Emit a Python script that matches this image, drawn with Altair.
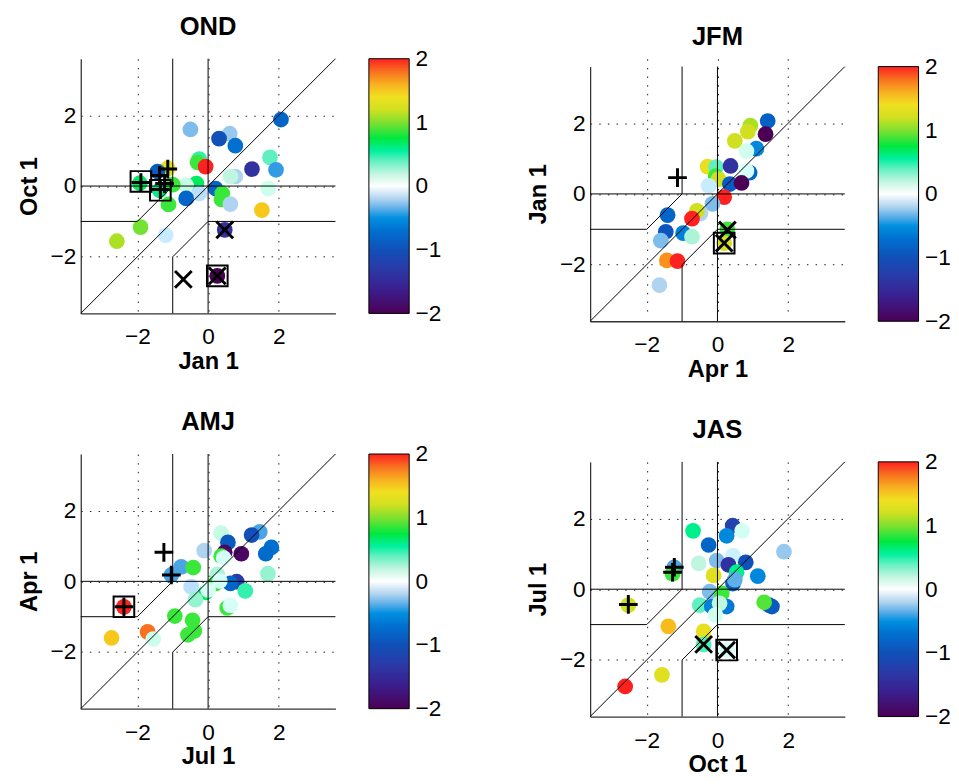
import altair as alt
import pandas as pd

# ---------------- colour map (value -> colour) ----------------
CMAP_V = [-2.0, -1.6, -1.3, -1.0, -0.7, -0.5, -0.35, -0.2, 0.0, 0.2, 0.4, 0.55, 0.75, 1.0, 1.2, 1.4, 1.6, 1.8, 2.0]
CMAP_C = ["#4b0055", "#3a2090", "#2a3aa8", "#1050b8", "#0070d0", "#0090e0", "#60b0e8", "#b0d4f0",
          "#ffffff", "#c0f5e0", "#60f0c0", "#00f0a0", "#00e840", "#80e030", "#d0e020", "#f0e020",
          "#f8b020", "#f87020", "#ff2020"]
CBAR_TICKS = [-2, -1, 0, 1, 2]
AXIS_TICKS = [-2, 0, 2]

# ---------------- OND ----------------
OND_x = [2.06, -0.50, 0.61, 0.31, 0.77, 1.75, -0.25, -0.30, -0.07, 1.24, 1.92, -1.14, -1.43, 0.77, 0.63, -0.33,
         -0.62, -1.93, -1.00, -1.37, 0.21, 1.70, -0.25, -0.62, 0.40, 0.38, 0.63, -1.12, 1.52, -1.91, -1.20, 0.47,
         0.26, -2.58]
OND_y = [1.88, 1.60, 1.48, 1.34, 1.14, 0.81, 0.76, 0.67, 0.55, 0.48, 0.46, 0.50, 0.41, 0.27, 0.27, 0.07,
         0.02, 0.08, 0.04, -0.12, -0.07, -0.07, -0.21, -0.35, -0.21, -0.38, -0.51, -0.52, -0.68, -1.16, -1.39, -1.24,
         -2.54, -1.56]
OND_v = [-0.8, -0.3, -0.25, -1.0, -0.7, 0.4, 0.5, 0.8, 2.0, -1.4, -0.45, 1.3, -0.9, -0.2, 0.2, 0.7,
         0.15, 0.7, 0.8, 0.6, -0.8, 0.1, -0.15, -0.8, 0.8, 0.8, -0.2, 0.8, 1.5, 0.95, -0.1, -1.4,
         -2.0, 1.1]
OND_plus_x = [-1.14, -1.37, -1.23, -1.90, -1.35]
OND_plus_y = [0.48, 0.30, 0.07, 0.10, -0.10]
OND_cross_x = [0.47, 0.26, -0.70]
OND_cross_y = [-1.24, -2.54, -2.64]
OND_sq_x = [-1.90, -1.35, 0.26]
OND_sq_y = [0.13, -0.12, -2.54]

# ---------------- JFM ----------------
JFM_x = [1.42, 0.93, 0.86, 1.36, 0.49, 1.10, 0.82, -0.28, -0.04, 0.37, 0.91, 0.82, -0.05, 0.03, 0.35, 0.68,
         -0.25, 0.19, -0.14, -0.48, -0.58, -0.72, -1.41, -1.46, -0.97, -0.72, -1.60, -1.43, -1.13, -1.64, 0.28, 0.19]
JFM_y = [2.06, 1.93, 1.76, 1.69, 1.50, 1.28, 1.21, 0.77, 0.76, 0.79, 0.60, 0.65, 0.50, 0.42, 0.28, 0.31,
         0.23, -0.09, -0.28, -0.55, -0.48, -0.70, -0.60, -1.07, -1.11, -1.21, -1.32, -1.88, -1.90, -2.58, -1.00, -1.39]
JFM_v = [-0.85, 1.1, 1.2, -2.0, 1.2, -0.55, 0.05, 1.35, 0.4, -1.4, -0.8, 0.0, 0.8, 1.2, -0.9, -2.0,
         -0.1, 2.0, -0.3, -0.2, 1.2, 2.0, -0.8, -0.95, -0.6, 0.25, -0.3, 1.7, 2.0, -0.2, 0.8, 1.25]
JFM_plus_x = [-1.13]
JFM_plus_y = [0.46]
JFM_cross_x = [0.28, 0.19]
JFM_cross_y = [-1.02, -1.39]
JFM_sq_x = [0.19]
JFM_sq_y = [-1.39]

# ---------------- AMJ ----------------
AMJ_x = [0.37, 1.46, 1.23, 0.56, 1.79, 1.63, -0.11, 0.47, 0.94, 0.37, -0.76, -0.42, -1.04, 0.26, 1.69, -0.48,
         0.81, 0.63, 0.21, 1.05, -0.06, 0.00, -0.36, 0.54, -2.38, -0.94, -0.44, -0.39, -0.57, -1.71, -1.55, -2.73,
         0.44, 0.63, 0.33]
AMJ_y = [1.36, 1.40, 1.31, 1.10, 0.96, 0.78, 0.87, 0.82, 0.78, 0.71, 0.41, 0.39, 0.18, 0.20, 0.22, -0.15,
         -0.01, -0.06, -0.06, -0.27, -0.31, -0.24, -0.52, -0.75, -0.72, -0.98, -1.10, -1.40, -1.51, -1.43, -1.63, -1.60,
         0.66, -0.68, 0.01]
AMJ_v = [0.15, -0.4, -1.0, -0.9, -0.7, -0.75, -0.2, -1.9, -1.9, 0.8, -0.4, 0.8, -0.4, 0.25, 0.3, -0.15,
         -1.3, -0.8, 0.8, 0.5, 0.7, 0.0, 0.3, 0.8, 2.0, 0.8, 0.8, 0.8, 0.8, 1.8, 0.1, 1.5,
         0.0, 0.0, 0.0]
AMJ_plus_x = [-1.25, -1.04, -2.38]
AMJ_plus_y = [0.82, 0.18, -0.72]
AMJ_cross_x = []
AMJ_cross_y = []
AMJ_sq_x = [-2.38]
AMJ_sq_y = [-0.72]

# ---------------- JAS ----------------
JAS_x = [-0.69, 0.43, 0.70, 0.26, -0.25, 1.88, 0.44, -0.53, -0.02, 0.31, 0.80, -1.22, -1.27, -0.11, 0.54, 1.14,
         0.44, 0.49, -0.22, 0.12, -2.52, -0.50, -0.16, 0.26, 0.06, -0.06, 1.54, 1.46, 1.32, -1.39, -0.39, -0.39,
         0.26, -1.57, -2.61]
JAS_y = [1.65, 1.80, 1.65, 1.51, 1.25, 1.06, 0.95, 0.73, 0.81, 0.69, 0.76, 0.62, 0.44, 0.39, 0.48, 0.37,
         0.16, 0.27, -0.07, -0.12, -0.45, -0.45, -0.49, -0.49, -0.40, -0.73, -0.49, -0.45, -0.37, -1.05, -1.19, -1.56,
         -1.72, -2.42, -2.75]
JAS_v = [0.6, -1.2, 0.02, -0.55, -0.8, -0.25, -0.08, 0.2, -0.3, -1.4, -1.0, -0.4, 0.8, 1.3, 0.6, -0.55,
         -0.9, -0.35, -0.3, 0.8, 1.2, 0.4, -0.6, -0.65, 0.2, 0.05, -0.9, -0.9, 0.85, 1.55, 1.35, 0.45,
         0.0, 1.3, 2.0]
JAS_plus_x = [-1.22, -1.27, -2.52]
JAS_plus_y = [0.62, 0.48, -0.43]
JAS_cross_x = [-0.39, 0.26]
JAS_cross_y = [-1.56, -1.72]
JAS_sq_x = [0.26]
JAS_sq_y = [-1.72]

# ---------------- reference lines ----------------
LIM = 3.6
LINE_SEG = ["diag", "diag", "h0", "h0", "v0", "v0",
            "a", "a", "a", "a", "b", "b", "b", "b"]
LINE_X = [-LIM, LIM, -LIM, LIM, 0, 0, -LIM, -2, -1, -1, LIM, 0, -1, -1]
LINE_Y = [-LIM, LIM, 0, 0, -LIM, LIM, -1, -1, 0, LIM, -1, -1, -2, -LIM]
LINE_O = [0, 1, 0, 1, 0, 1, 0, 1, 2, 3, 0, 1, 2, 3]

FONT = "Liberation Sans"
PW = 259
CBW = 41
TITLE_OFFSET = 17
PLUS = "M-1,0L1,0M0,-1L0,1"
CROSS = "M-1,-1L1,1M-1,1L1,-1"

cscale = alt.Scale(domain=CMAP_V, range=CMAP_C, type="linear", clamp=True)
lines_df = pd.DataFrame({"x": LINE_X, "y": LINE_Y, "seg": LINE_SEG, "o": LINE_O})


def axis(orient):
    return alt.Axis(values=AXIS_TICKS, grid=True, gridDash=[1.5, 7.3], gridColor="#000", gridOpacity=0.9,
                    gridWidth=1, ticks=False, domain=True, domainColor="#333", domainWidth=1.3,
                    labelFontSize=23, labelFont=FONT, labelColor="black",
                    labelPadding=13 if orient == "bottom" else 5,
                    titleFontSize=24, titleFont=FONT, titleFontWeight="bold", titleColor="black",
                    titlePadding=1 if orient == "bottom" else 9, format="d")


def panel(title, xlab, ylab, xs, ys, vs, px, py, cx, cy, sx, sy, drop=0):
    # `drop` leaves an empty band above the plot so this panel sits a little lower
    H = PW + drop
    sx_scale = alt.Scale(domain=[-LIM, LIM], nice=False, zero=False)
    sy_scale = alt.Scale(domain=[-LIM, LIM], nice=False, zero=False, range=[H, drop])

    def X():
        return alt.X("x:Q", scale=sx_scale, axis=axis("bottom"), title=xlab)

    def Y():
        return alt.Y("y:Q", scale=sy_scale, axis=axis("left"), title=ylab)

    pts = alt.Chart(pd.DataFrame({"x": xs, "y": ys, "v": vs})).mark_circle(size=256, opacity=1).encode(
        x=X(), y=Y(), color=alt.Color("v:Q", scale=cscale, legend=None))
    lines = alt.Chart(lines_df).mark_line(color="black", strokeWidth=1).encode(
        x=X(), y=Y(), detail="seg:N", order="o:Q")
    layers = [pts, lines]
    if sx:
        layers.append(alt.Chart(pd.DataFrame({"x": sx, "y": sy})).mark_point(
            shape="square", size=441, filled=False, color="black", strokeWidth=2, opacity=1).encode(x=X(), y=Y()))
    if px:
        layers.append(alt.Chart(pd.DataFrame({"x": px, "y": py})).mark_point(
            shape=PLUS, size=361, filled=False, color="black", strokeWidth=3, opacity=1).encode(x=X(), y=Y()))
    if cx:
        layers.append(alt.Chart(pd.DataFrame({"x": cx, "y": cy})).mark_point(
            shape=CROSS, size=289, filled=False, color="black", strokeWidth=3, opacity=1).encode(x=X(), y=Y()))

    plot = alt.layer(*layers).properties(
        width=PW, height=H,
        title=alt.TitleParams(title, fontSize=26, font=FONT, fontWeight="bold", color="black",
                              offset=TITLE_OFFSET - drop, anchor="middle"))

    grad = alt.LinearGradient(
        gradient="linear", x1=0, x2=0, y1=1, y2=0,
        stops=[alt.GradientStop(offset=(v + 2) / 4, color=c) for v, c in zip(CMAP_V, CMAP_C)])
    cb = alt.Chart(pd.DataFrame({"lo": [-2], "hi": [2]})).mark_rect(
        color=grad, stroke="black", strokeWidth=1).encode(
        y=alt.Y("lo:Q", scale=alt.Scale(domain=[-2, 2], nice=False, zero=False, range=[H, drop]),
                axis=alt.Axis(orient="right", values=CBAR_TICKS, ticks=False, domain=False, grid=False,
                              labelFontSize=23, labelFont=FONT, labelColor="black", labelPadding=6,
                              format="d"), title=None),
        y2="hi:Q").properties(width=CBW, height=H)
    return alt.hconcat(plot, cb, spacing=31)


p_ond = panel("OND", "Jan 1", "Oct 1", OND_x, OND_y, OND_v, OND_plus_x, OND_plus_y,
              OND_cross_x, OND_cross_y, OND_sq_x, OND_sq_y)
p_jfm = panel("JFM", "Apr 1", "Jan 1", JFM_x, JFM_y, JFM_v, JFM_plus_x, JFM_plus_y,
              JFM_cross_x, JFM_cross_y, JFM_sq_x, JFM_sq_y, drop=8)
p_amj = panel("AMJ", "Jul 1", "Apr 1", AMJ_x, AMJ_y, AMJ_v, AMJ_plus_x, AMJ_plus_y,
              AMJ_cross_x, AMJ_cross_y, AMJ_sq_x, AMJ_sq_y)
p_jas = panel("JAS", "Oct 1", "Jul 1", JAS_x, JAS_y, JAS_v, JAS_plus_x, JAS_plus_y,
              JAS_cross_x, JAS_cross_y, JAS_sq_x, JAS_sq_y)

chart = alt.hconcat(
    alt.vconcat(p_ond, p_amj, spacing=37),
    alt.vconcat(p_jfm, p_jas, spacing=37),
    spacing=86,
).properties(padding={"left": 9, "top": 0, "right": 0, "bottom": 0}).configure_view(stroke=None)

chart.save("out.html", embed_options={"renderer": "svg", "actions": False})
